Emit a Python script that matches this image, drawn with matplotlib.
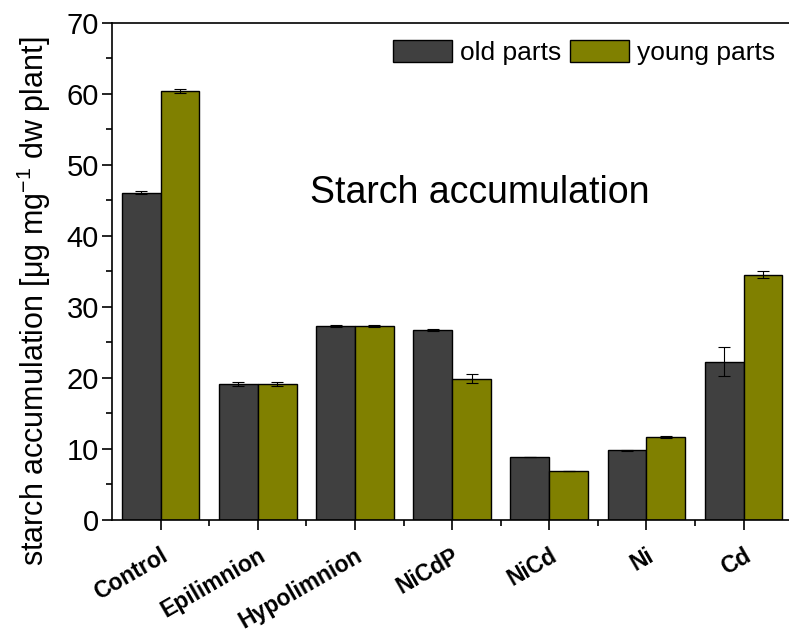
import numpy as np
import matplotlib
matplotlib.use("Agg")
import matplotlib.pyplot as plt
from matplotlib.ticker import MultipleLocator

plt.rcParams['font.family'] = ['Liberation Sans', 'DejaVu Sans']

categories = ['Control', 'Epilimnion', 'Hypolimnion', 'NiCdP', 'NiCd', 'Ni', 'Cd']
old_vals = [46.1, 19.1, 27.3, 26.8, 8.8, 9.8, 22.3]
old_err = [0.2, 0.3, 0.2, 0.15, 0.0, 0.05, 2.1]
young_vals = [60.4, 19.1, 27.3, 19.9, 6.9, 11.7, 34.5]
young_err = [0.35, 0.3, 0.2, 0.6, 0.0, 0.1, 0.5]

OLD_COLOR = '#404040'
YOUNG_COLOR = '#808000'
W = 0.4

fig = plt.figure(figsize=(7.89, 6.34), dpi=100)
ax = fig.add_axes([0.142, 0.18, 0.862, 0.784])

x = np.arange(len(categories))
err_kw = dict(ecolor='black', elinewidth=0.8, capsize=4, capthick=0.8)
ax.bar(x - W / 2, old_vals, W, yerr=old_err, color=OLD_COLOR, edgecolor='black',
       linewidth=1.0, label='old parts', error_kw=err_kw)
ax.bar(x + W / 2, young_vals, W, yerr=young_err, color=YOUNG_COLOR, edgecolor='black',
       linewidth=1.0, label='young parts', error_kw=err_kw)

ax.set_xlim(-0.5, 6.5)
ax.set_ylim(0, 70)
ax.yaxis.set_major_locator(MultipleLocator(10))
ax.yaxis.set_minor_locator(MultipleLocator(5))
ax.set_xticks(x)
ax.set_xticks(x[:-1] + 0.5, minor=True)
ax.set_xticklabels(categories, rotation=30, ha='right', rotation_mode='anchor',
                   fontsize=16.5, fontweight='bold')
ax.tick_params(axis='both', which='major', direction='out', length=7.5, width=1.2)
ax.tick_params(axis='both', which='minor', direction='out', length=4.5, width=1.2)
ax.tick_params(axis='y', labelsize=21, pad=2)
ax.tick_params(axis='x', pad=10)

for side in ['left', 'bottom', 'top']:
    ax.spines[side].set_linewidth(1.2)
ax.spines['right'].set_visible(False)

ax.set_ylabel(r'starch accumulation [$\mathregular{\mu}$g mg$^{\mathregular{-1}}$ dw plant]',
              fontsize=22, labelpad=10)
ax.yaxis.label.set_y(0.44)   # label sits a bit low in the original

ax.text(0.54, 0.657, 'Starch accumulation', transform=ax.transAxes,
        ha='center', va='center', fontsize=27)

ax.legend(loc='upper right', ncol=2, frameon=False, fontsize=19,
          handlelength=2.25, handleheight=0.9, columnspacing=0.3,
          handletextpad=0.3, borderaxespad=0.2, bbox_to_anchor=(0.998, 0.998))

fig.savefig('out.png', dpi=100)
